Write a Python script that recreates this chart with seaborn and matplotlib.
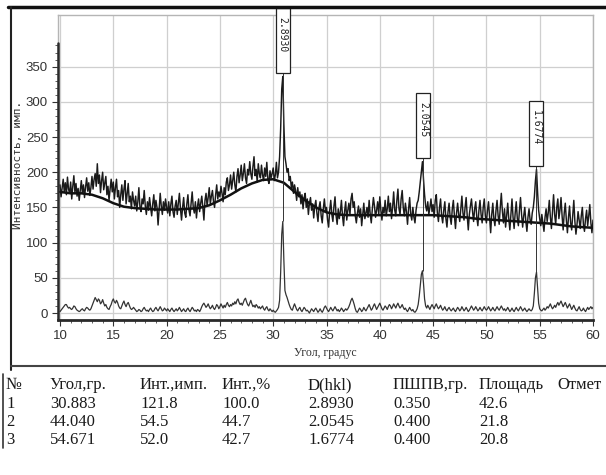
import numpy as np
import pandas as pd
import matplotlib
matplotlib.use("Agg")
import matplotlib.pyplot as plt
import seaborn as sns
from matplotlib.patches import Rectangle
from matplotlib.lines import Line2D
from matplotlib.ticker import MultipleLocator, FixedLocator

sns.set_theme(style="white")
plt.rcParams['font.family'] = ['DejaVu Sans']

# ---------------- data ----------------
# raw diffractogram, 0.1 degree step, in 5-degree segments
raw_10 = [182,165,178,190,172,185,168,193,176,170, 186,162,180,195,171,184,166,177,160,174,
          188,170,182,164,179,192,173,185,167,178, 194,176,190,198,180,212,184,196,171,188,
          200,175,185,194,168,180,160,176,190,172]
raw_15 = [186,162,178,190,165,174,150,168,182,160, 176,188,155,170,184,158,166,148,172,160,
          152,166,145,158,178,150,144,162,155,174, 152,140,158,146,164,150,138,155,168,145,
          160,150,125,148,170,152,140,158,146,162]
raw_20 = [150,142,158,138,155,166,144,136,152,160, 140,156,170,148,132,150,164,142,136,155,
          168,146,138,156,172,150,142,158,135,152, 162,144,156,166,150,132,160,170,152,164,
          178,155,166,174,158,150,168,182,162,172]
raw_25 = [165,180,170,158,178,168,186,192,174,182, 196,176,188,200,182,172,194,205,185,196,
          210,188,198,212,192,184,204,196,215,198, 190,208,222,195,204,186,212,198,192,210,
          196,188,206,194,214,190,184,202,192,198]
raw_30 = [206,188,196,214,192,200,222,262,318,336, 268,222,212,200,205,188,194,178,186,170,
          182,174,160,178,165,172,155,168,148,164, 170,150,162,140,156,164,146,155,135,152,
          160,142,130,150,158,138,128,148,162,145]
raw_35 = [150,132,122,146,160,140,130,152,165,138, 126,148,134,144,160,138,124,145,158,132,
          146,156,140,162,170,150,158,138,128,142, 152,136,148,124,140,156,134,142,150,136,
          160,140,128,148,164,152,136,146,158,140]
raw_40 = [165,146,132,150,142,160,138,148,166,144, 156,134,150,172,146,138,160,176,148,140,
          162,174,150,138,156,144,126,148,164,140, 132,150,136,128,146,156,160,172,186,200,
          215,190,168,152,145,158,140,150,162,144]
raw_45 = [154,136,160,168,142,130,150,162,138,128, 146,158,134,122,144,156,136,126,148,160,
          138,120,142,156,140,130,148,166,142,132, 150,164,138,118,140,152,162,144,130,148,
          158,136,124,146,160,140,128,150,162,138]
raw_50 = [128,146,158,136,114,140,156,134,124,146, 160,138,126,150,170,144,128,148,122,138,
          156,134,118,140,162,136,120,142,158,134, 124,146,164,140,122,138,150,130,116,136,
          148,132,126,142,150,165,188,204,172,146]
raw_55 = [134,124,140,128,116,136,148,130,142,160, 136,120,144,168,140,126,150,162,134,146,
          164,138,118,142,156,132,114,136,152,128, 118,138,160,130,112,126,144,132,120,138,
          150,126,116,134,146,124,138,154,128,114, 132]

# difference (background-subtracted) curve, 0.1 degree step
diff_10 = [2,4,6,8,10,12,12,9,7,8, 6,5,7,10,9,6,4,3,2,3, 5,6,4,3,6,8,7,5,4,6,
           10,14,18,22,19,16,20,18,13,15, 19,14,10,12,8,6,5,9,12,17]
diff_15 = [20,16,14,18,15,10,7,6,10,14, 17,12,9,13,15,11,7,5,6,8, 6,4,2,3,5,4,2,3,6,8,
           5,3,4,2,5,7,4,2,3,6, 8,5,3,6,9,6,3,4,7,5]
diff_20 = [3,6,4,2,5,7,4,2,4,6, 3,5,8,5,2,4,6,3,2,5, 7,4,2,5,8,6,3,4,2,5,
           4,2,5,9,12,14,11,8,10,13, 9,6,8,11,7,5,8,12,10,6]
diff_25 = [9,13,10,7,11,8,12,15,11,9, 12,10,14,12,16,13,18,20,15,12, 14,11,15,19,21,16,12,10,14,18,
           13,9,11,8,12,10,7,9,6,8, 10,6,4,7,9,5,3,6,4,2]
diff_30 = [4,2,1,3,5,8,18,58,112,130, 75,32,26,22,17,12,8,5,4,9, 13,9,5,3,6,8,4,2,5,8,
           6,3,4,2,0,3,6,4,2,5, 7,4,1,3,6,3,1,4,8,10]
diff_35 = [7,4,2,5,8,5,3,6,9,6, 3,5,2,4,7,5,2,4,6,4, 6,9,13,18,21,17,12,6,2,1,
           4,7,5,2,4,8,5,3,6,9, 12,8,4,6,10,13,9,5,8,11]
diff_40 = [14,10,6,4,7,10,8,5,9,12, 10,6,9,13,10,7,11,14,10,7, 9,12,8,5,7,4,2,5,8,5,
           3,5,2,1,3,6,12,24,40,55, 60,42,20,10,7,11,8,5,9,12]
diff_45 = [9,6,10,13,9,6,8,11,7,4, 6,9,5,3,6,8,5,3,5,7, 4,2,5,8,6,3,5,9,6,3,
           5,8,5,2,4,7,10,7,4,6, 9,6,3,5,8,5,3,6,9,6]
diff_50 = [4,6,9,6,3,5,8,5,3,6, 9,6,4,7,10,7,4,6,3,5, 8,5,2,4,7,4,2,5,8,5,
           3,6,9,6,3,5,7,4,2,4, 6,4,3,5,10,28,50,58,36,14]
diff_55 = [6,4,3,5,7,4,6,9,7,10, 13,9,6,8,11,8,12,15,11,14, 17,13,9,12,15,11,7,10,13,9,
           5,8,11,7,4,3,6,9,5,3, 4,7,4,2,5,8,5,7,9,6, 8]

# smooth background, 1 degree step
bg_angle = list(range(10, 61))
bg_int = [172,170,170,168,163,156,151,149,148,147, 147,147,148,149,153,160,168,177,184,189,
          190,185,172,160,150,143,140,139,139,139, 139,139,139,139,139,139,138,137,136,134,
          133,132,131,130,129,128,127,125,123,122, 121]

# peak table
tbl_headers = ["№", "Угол,гр.", "Инт.,имп.", "Инт.,%", "D(hkl)", "ПШПВ,гр.", "Площадь", "Отмет"]
pk_num = ["1", "2", "3"]
pk_angle = [30.883, 44.040, 54.671]
pk_int = ["121.8", "54.5", "52.0"]
pk_pct = ["100.0", "44.7", "42.7"]
pk_dhkl = ["2.8930", "2.0545", "1.6774"]
pk_fwhm = ["0.350", "0.400", "0.400"]
pk_area = ["42.6", "21.8", "20.8"]

y_ticks = [0, 50, 100, 150, 200, 250, 300, 350]
x_ticks = [10, 15, 20, 25, 30, 35, 40, 45, 50, 55, 60]


def build(segs, starts):
    a, v = [], []
    for s, st in zip(segs, starts):
        a.extend([round(st + 0.1 * i, 1) for i in range(len(s))])
        v.extend(s)
    return pd.DataFrame({"angle": a, "I": v})


starts = [10, 15, 20, 25, 30, 35, 40, 45, 50, 55]
raw_df = build([raw_10, raw_15, raw_20, raw_25, raw_30, raw_35, raw_40, raw_45, raw_50, raw_55], starts)
diff_df = build([diff_10, diff_15, diff_20, diff_25, diff_30, diff_35, diff_40, diff_45, diff_50, diff_55], starts)
bg_df = pd.DataFrame({"angle": bg_angle, "I": bg_int})

# ---------------- figure ----------------
W, H = 606, 475
fig = plt.figure(figsize=(W / 100, H / 100), dpi=100)
fig.patch.set_facecolor("white")

ax_l, ax_r, ax_t, ax_b = 57.7, 593, 15, 320
ax = fig.add_axes([ax_l / W, 1 - ax_b / H, (ax_r - ax_l) / W, (ax_b - ax_t) / H])
px_deg = (593 - 60) / 50.0
px_unit = 0.704
xmin = 10 - (60 - ax_l) / px_deg
ymin = -(ax_b - 313) / px_unit
ymax = (313 - ax_t) / px_unit
ax.set_xlim(xmin, 60)
ax.set_ylim(ymin, ymax)

sns.lineplot(data=diff_df, x="angle", y="I", ax=ax, color="#333333", lw=0.9, zorder=3)
sns.lineplot(data=raw_df, x="angle", y="I", ax=ax, color="#1a1a1a", lw=1.05, zorder=3)
sns.lineplot(data=bg_df, x="angle", y="I", ax=ax, color="#111111", lw=1.8, zorder=4)

ax.set_xticks(x_ticks)
ax.set_yticks(y_ticks)
ax.xaxis.set_minor_locator(MultipleLocator(1))
ax.yaxis.set_minor_locator(FixedLocator(list(range(-10, 385, 10))))
ax.grid(True, which="major", color="#cfcfcf", lw=0.9)
ax.set_axisbelow(True)
ax.set_xlabel("")
ax.set_ylabel("")
for s in ["top", "right", "left"]:
    ax.spines[s].set_color("#b5b5b5")
    ax.spines[s].set_linewidth(1.0)
ax.spines["bottom"].set_color("#2a2a2a")
ax.spines["bottom"].set_linewidth(2.0)
ax.axvline(xmin, ymin=0, ymax=(383 - ymin) / (ymax - ymin), color="#2a2a2a", lw=1.8, clip_on=False, zorder=5)

ax.tick_params(axis="both", which="major", direction="out", length=4, width=0.8, color="#333333",
               labelsize=9.5, labelcolor="#333333", pad=3, bottom=True, left=True)
ax.tick_params(axis="both", which="minor", direction="out", length=2, width=0.6, color="#444444",
               bottom=True, left=True)
ax.tick_params(axis="x", which="major", pad=3)
for lab in ax.get_xticklabels() + ax.get_yticklabels():
    lab.set_fontfamily(["Liberation Sans", "DejaVu Sans"])

# peak marker boxes
box_h = 92
box_w = 14 / px_deg
for ang, lab in zip(pk_angle, pk_dhkl):
    near = raw_df[(raw_df.angle > ang - 0.3) & (raw_df.angle < ang + 0.3)]
    top_raw = near.I.max()
    near_d = diff_df[(diff_df.angle > ang - 0.3) & (diff_df.angle < ang + 0.3)]
    top_diff = near_d.I.max()
    bottom = top_raw + 5
    ax.vlines(ang, top_diff, bottom, color="#333333", lw=0.7, zorder=4)
    ax.add_patch(Rectangle((ang - box_w / 2, bottom), box_w, box_h, fc="white", ec="#222222",
                           lw=0.9, clip_on=False, zorder=6))
    ax.text(ang, bottom + box_h - 12, lab, rotation=-90, ha="center", va="top", fontsize=7,
            family="DejaVu Sans Mono", color="#222222", zorder=7, clip_on=False)

# axis titles
fig.text(18 / W, 1 - 165 / H, "Интенсивность, имп.", rotation=90, ha="center", va="center",
         family="DejaVu Sans Mono", fontsize=8, color="#333333")
fig.text(325 / W, 1 - 353 / H, "Угол, градус", ha="center", va="center",
         family="Liberation Serif", fontsize=8.5, color="#333333")

# page decoration lines
fig.add_artist(Line2D([8 / W, 1], [1 - 7 / H, 1 - 7 / H], transform=fig.transFigure, color="#111111", lw=2.5))
fig.add_artist(Line2D([11 / W, 11 / W], [1 - 7 / H, 1 - 370 / H], transform=fig.transFigure, color="#222222", lw=1.5))
fig.add_artist(Line2D([11 / W, 1], [1 - 366 / H, 1 - 366 / H], transform=fig.transFigure, color="#444444", lw=1.5))
fig.add_artist(Line2D([3 / W, 3 / W], [1 - 374 / H, 1 - 448 / H], transform=fig.transFigure, color="#333333", lw=1.2))

# table
col_x = [6, 50, 140, 222, 308, 393, 479, 557]
row_y = [385, 404, 422, 440]
for cx, h in zip(col_x, tbl_headers):
    fig.text(cx / W, 1 - row_y[0] / H, h, ha="left", va="center", family="Liberation Serif",
             fontsize=12, color="#1a1a1a")
cols = [pk_num, ["%.3f" % a for a in pk_angle], pk_int, pk_pct, pk_dhkl, pk_fwhm, pk_area]
for r in range(3):
    for c, col in enumerate(cols):
        fig.text(col_x[c] / W, 1 - row_y[r + 1] / H, col[r], ha="left", va="center",
                 family="Liberation Serif", fontsize=12, color="#1a1a1a")

fig.savefig("out.png", dpi=100, facecolor="white")
